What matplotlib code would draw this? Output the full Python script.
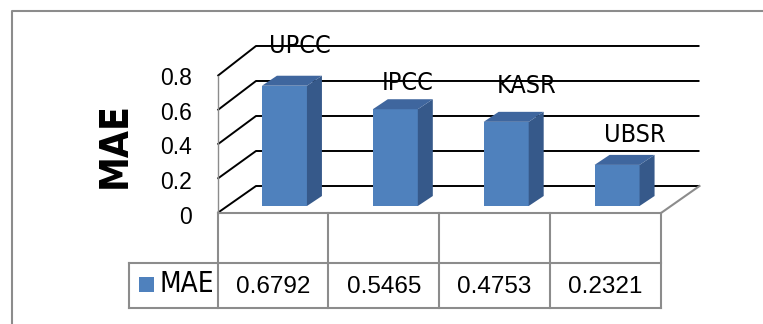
import matplotlib
matplotlib.use("Agg")
import matplotlib.pyplot as plt
from matplotlib import font_manager as fm
from matplotlib.patches import Polygon, Rectangle
import numpy as np

# ---- data ----
categories = ["UPCC", "IPCC", "KASR", "UBSR"]
mae = [0.6792, 0.5465, 0.4753, 0.2321]
series_name = "MAE"
y_ticks = [0, 0.2, 0.4, 0.6, 0.8]
tick_labels = ["0", "0.2", "0.4", "0.6", "0.8"]
table_values = ["0.6792", "0.5465", "0.4753", "0.2321"]

# ---- layout (pixels) ----
W, H = 763, 324
X0, X1 = 217.5, 661.0        # front-plane category edges
Y0, Y_TOP = 213.0, 76.0      # front-plane value 0 and 0.8
n = len(categories)
CW = (X1 - X0) / n
VS = (Y0 - Y_TOP) / 0.8

WALL_DX, WALL_DY, WALL_K = 38.5, 27.0, 1.022
BAR_W, BAR_DX, BAR_BASE, BAR_K = 45.0, 11.5, 7.0, 1.034
SIDE_DX, SIDE_DY = 15.0, 10.0
LABEL_NUDGE = [(27, 33), (24, 19), (32, 29), (29, 23)]

FRONT = "#4F81BD"
SIDE = "#36598A"
TOP = "#3F669E"
GRAY = "#8c8c8c"
REGULAR = ["Liberation Sans", "DejaVu Sans"]

# pick a narrow sans for the lettering
_fonts = fm.fontManager.ttflist
if any(f.name == "Liberation Sans Narrow" for f in _fonts):
    NARROW = dict(family="Liberation Sans Narrow")
    NARROW_SCALE = 1.0
elif any(f.name == "DejaVu Sans" and f.stretch == "condensed" for f in _fonts):
    NARROW = dict(family="DejaVu Sans", stretch="condensed")
    NARROW_SCALE = 1.0
else:
    NARROW = dict(family="Liberation Sans")
    NARROW_SCALE = 0.9

fig = plt.figure(figsize=(W / 100, H / 100), dpi=100)
ax = fig.add_axes([0, 0, 1, 1])
ax.set_xlim(-X0 / CW, (W - X0) / CW)
ax.set_ylim(-(H - Y0) / VS, Y0 / VS)
ax.axis("off")


def ux(p):
    return p / CW


def uy(p):
    return p / VS


def px(xp, yp):
    return (xp - X0) / CW, (Y0 - yp) / VS


# outer frame
fx, fy = zip(px(12, H + 2), px(12, 11), px(W + 2, 11))
ax.plot(fx, fy, color=GRAY, lw=1.5, clip_on=False, zorder=0)

# gridlines on the side and back walls
for v in y_ticks:
    yb = v * WALL_K + uy(WALL_DY)
    ax.plot([0, ux(WALL_DX), n + ux(WALL_DX)], [v, yb, yb],
            color="black", lw=1.4, solid_capstyle="butt", zorder=1)

# front value axis and floor edges
ax.plot([0, 0], [0, y_ticks[-1]], color=GRAY, lw=1.0, zorder=1)
ax.plot([n, n + ux(WALL_DX)], [0, uy(WALL_DY)], color=GRAY, lw=1.5, zorder=1)

# bars
centers = np.arange(n) + 0.5
heights = np.array(mae) * BAR_K
lefts = centers + ux(BAR_DX - BAR_W / 2)
base = uy(BAR_BASE)
ax.bar(lefts, heights, width=ux(BAR_W), bottom=base, align="edge",
       color=FRONT, linewidth=0, zorder=3)
for l, h in zip(lefts, heights):
    r = l + ux(BAR_W)
    top = base + h
    sx, sy = ux(SIDE_DX), uy(SIDE_DY)
    ax.add_patch(Polygon([(r, base), (r + sx, base + sy), (r + sx, top + sy), (r, top)],
                         closed=True, facecolor=SIDE, edgecolor="none", zorder=3))
    ax.add_patch(Polygon([(l, top), (l + sx, top + sy), (r + sx, top + sy), (r, top)],
                         closed=True, facecolor=TOP, edgecolor="none", zorder=3))

# category labels above the bars
for c, h, name, (nx, ny) in zip(centers, heights, categories, LABEL_NUDGE):
    ax.text(c + ux(nx), base + h + uy(ny), name, ha="center", va="baseline",
            fontsize=18 * NARROW_SCALE, zorder=5, **NARROW)

# value tick labels
for v, t in zip(y_ticks, tick_labels):
    ax.text(ux(192 - X0), v * 1.0146 - uy(11), t, ha="right", va="baseline",
            fontsize=16.5, family=REGULAR)

# value axis title
tx, ty = px(126, 145)
ax.text(tx, ty, series_name, rotation=90, rotation_mode="anchor",
        ha="center", va="baseline", fontsize=28 * NARROW_SCALE, fontweight="bold", **NARROW)

# data table
ROW_TOP, ROW_MID, ROW_BOT, LEG_LEFT = 213, 263, 308, 129
for i in range(n + 1):
    ax.plot([i, i], [px(0, ROW_TOP)[1], px(0, ROW_BOT)[1]], color=GRAY, lw=1.5, zorder=2)
ax.plot([0, n], [0, 0], color=GRAY, lw=1.5, zorder=2)
for yr in (ROW_MID, ROW_BOT):
    ax.plot([px(LEG_LEFT, 0)[0], n], [px(0, yr)[1]] * 2, color=GRAY, lw=1.5, zorder=2)
ax.plot([px(LEG_LEFT, 0)[0]] * 2, [px(0, ROW_MID)[1], px(0, ROW_BOT)[1]], color=GRAY, lw=1.5, zorder=2)

for c, s in zip(centers, table_values):
    ax.text(c, px(0, 293)[1], s, ha="center", va="baseline", fontsize=17.5, family=REGULAR)

sq_x, sq_y = px(139, 292)
ax.add_patch(Rectangle((sq_x, sq_y), ux(15), uy(15), facecolor=FRONT, edgecolor="none"))
lx, ly = px(159, 292)
ax.text(lx, ly, series_name, ha="left", va="baseline", fontsize=20 * NARROW_SCALE, **NARROW)

fig.savefig("out.png", dpi=100)
